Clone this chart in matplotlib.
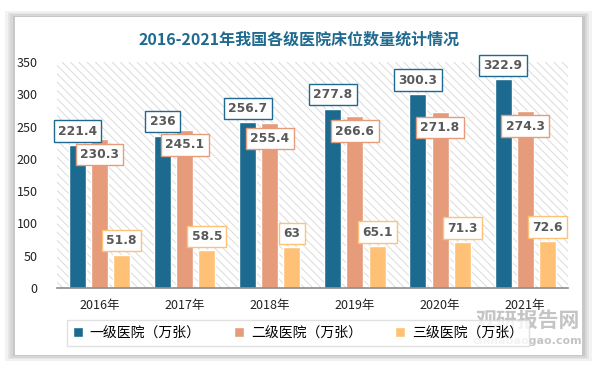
import numpy as np
import matplotlib
matplotlib.use("Agg")
import matplotlib.pyplot as plt
from matplotlib.patches import Rectangle

plt.rcParams['font.family'] = ['Noto Sans CJK SC', 'DejaVu Sans']
plt.rcParams['hatch.linewidth'] = 0.6

years = ['2016年', '2017年', '2018年', '2019年', '2020年', '2021年']
level1 = [221.4, 236, 256.7, 277.8, 300.3, 322.9]
level2 = [230.3, 245.1, 255.4, 266.6, 271.8, 274.3]
level3 = [51.8, 58.5, 63, 65.1, 71.3, 72.6]
names = ['一级医院（万张）', '二级医院（万张）', '三级医院（万张）']
colors = ['#1C6A8F', '#E69B7B', '#FEC176']

fig = plt.figure(figsize=(5.96, 3.67), dpi=100)
fig.patch.set_facecolor('white')

# card with soft shadow
for i, a in enumerate([0.05, 0.05, 0.06, 0.07]):
    d = (4 - i) * 0.004
    fig.add_artist(Rectangle((0.025 - d, 0.033 - d), 0.952 + 2 * d, 0.92 + 2 * d,
                             transform=fig.transFigure, facecolor='black',
                             alpha=a, edgecolor='none', zorder=0))
fig.add_artist(Rectangle((0.025, 0.033), 0.952, 0.92, transform=fig.transFigure,
                         facecolor='white', edgecolor='none', zorder=0))

ax = fig.add_axes([0.0956, 0.2153, 0.857, 0.616])
ax.set_facecolor('white')
ax.add_patch(Rectangle((0, 0), 1, 1, transform=ax.transAxes, facecolor='white',
                       edgecolor='#d6d6d6', hatch='\\\\\\\\', linewidth=0, zorder=0))

x = np.arange(len(years))
w = 0.2
offs = [-0.26, 0, 0.26]
series = [level1, level2, level3]
for k in range(3):
    ax.bar(x + offs[k], series[k], width=w, color=colors[k], edgecolor='white',
           linewidth=1, label=names[k], zorder=2)
    for xi, v in zip(x, series[k]):
        dy = -11 if k == 1 else 10
        lab = ('%g' % v)
        ax.annotate(lab, (xi + offs[k], v), xytext=(0, dy), textcoords='offset points',
                    ha='center', va='center', fontsize=8.8, fontweight='bold',
                    color='#595959', family='DejaVu Sans', zorder=4,
                    bbox=dict(boxstyle='square,pad=0.35', facecolor='white',
                              edgecolor=colors[k], linewidth=1))

ax.set_xlim(-0.5, 5.5)
ax.set_ylim(0, 350)
ax.set_yticks(range(0, 351, 50))
ax.set_xticks(x)
ax.set_xticklabels(years)
ax.tick_params(axis='both', length=0, labelsize=9, colors='#222222')
ax.tick_params(axis='y', pad=14)
ax.tick_params(axis='x', pad=8)
for s in ['top', 'right', 'left']:
    ax.spines[s].set_visible(False)
ax.spines['bottom'].set_color('#8c8c8c')
ax.spines['bottom'].set_linewidth(1.2)

fig.text(0.502, 0.893, '2016-2021年我国各级医院床位数量统计情况', ha='center', va='center',
         fontsize=11.5, fontweight='bold', color='#1F6A8E')

leg = fig.legend(loc='center', bbox_to_anchor=(0.50, 0.093), ncol=3, fontsize=10,
                 frameon=True, fancybox=False, edgecolor='#d9d9d9', handlelength=0.7,
                 handleheight=0.7, columnspacing=2.4, handletextpad=0.5,
                 borderpad=0.45, borderaxespad=0)
leg.get_frame().set_linewidth(1.0)

# watermark
fig.text(0.885, 0.128, '观研报告网', ha='center', va='center', fontsize=15,
         fontweight='bold', color='#8a8a8a', alpha=0.5)
fig.text(0.885, 0.072, 'chinabaogao.com', ha='center', va='center', fontsize=8,
         fontweight='bold', color='#8a8a8a', alpha=0.5, family='DejaVu Sans')

fig.savefig('out.png', dpi=100)
